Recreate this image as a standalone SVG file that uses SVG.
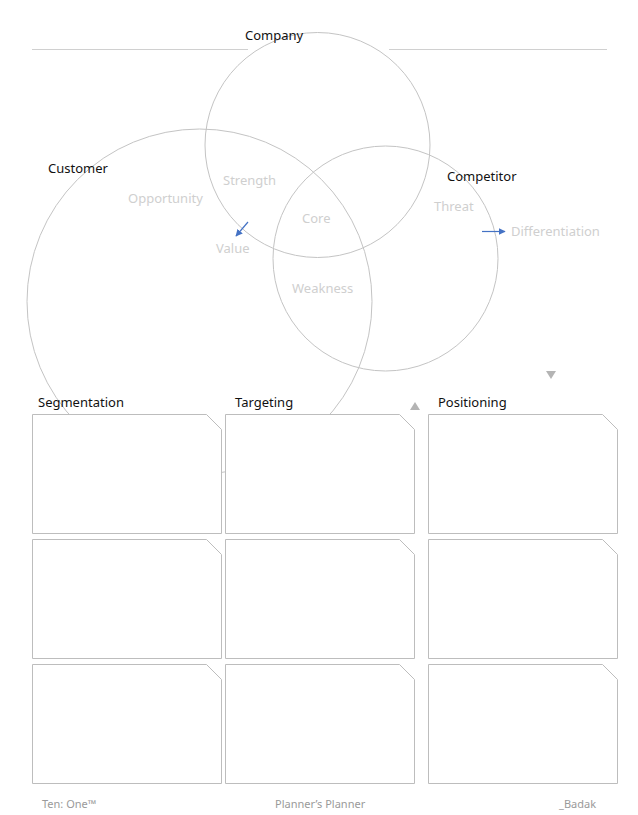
<svg xmlns="http://www.w3.org/2000/svg" width="638" height="815" viewBox="0 0 638 815">
<defs>
<style>
.c{fill:none;stroke:#c4c4c4;stroke-width:1}
.rule{stroke:#d0d0d0;stroke-width:1}
.box{fill:#fff;stroke:#bdbdbd;stroke-width:1}
.h{font-family:"Noto Sans","Open Sans",sans-serif;font-size:13px;fill:#111}
.g{font-family:"Noto Sans","Open Sans",sans-serif;font-size:13px;fill:#cfcfcf}
.f{font-family:"Noto Sans","Open Sans",sans-serif;font-size:11px;fill:#9a9a9a}
.arr{stroke:#4472c4;stroke-width:1.2;fill:none}
.tri{fill:#b4b4b4}
</style>
<marker id="ah" viewBox="0 0 10 10" refX="9" refY="5" markerWidth="7" markerHeight="7" orient="auto" markerUnits="userSpaceOnUse">
<path d="M0,0 L10,5 L0,10 z" fill="#4472c4"/>
</marker>
<path id="cut" d="M0.5,0.5 H174.5 L189.5,15.5 V119.5 H0.5 Z"/>
</defs>
<rect width="638" height="815" fill="#fff"/>
<g id="rules">
<line class="rule" x1="32" y1="49.5" x2="248" y2="49.5"/>
<line class="rule" x1="389" y1="49.5" x2="607" y2="49.5"/>
</g>
<g id="circle-company"><circle class="c" cx="317.5" cy="145" r="112.5"/></g>
<g id="circle-customer"><circle class="c" cx="199.5" cy="301.5" r="172.5"/></g>
<g id="circle-competitor"><circle class="c" cx="385.5" cy="258.5" r="112.5"/></g>
<g id="boxes">
<use href="#cut" class="box" transform="translate(32,414)"/>
<use href="#cut" class="box" transform="translate(225,414)"/>
<use href="#cut" class="box" transform="translate(428,414)"/>
<use href="#cut" class="box" transform="translate(32,539)"/>
<use href="#cut" class="box" transform="translate(225,539)"/>
<use href="#cut" class="box" transform="translate(428,539)"/>
<use href="#cut" class="box" transform="translate(32,664)"/>
<use href="#cut" class="box" transform="translate(225,664)"/>
<use href="#cut" class="box" transform="translate(428,664)"/>
</g>
<g id="labels">
<text class="h" x="245" y="40">Company</text>
<text class="h" x="48" y="173">Customer</text>
<text class="h" x="447" y="181">Competitor</text>
<text class="g" x="128" y="203">Opportunity</text>
<text class="g" x="223" y="185">Strength</text>
<text class="g" x="302" y="223">Core</text>
<text class="g" x="216" y="253">Value</text>
<text class="g" x="434" y="211">Threat</text>
<text class="g" x="511" y="236">Differentiation</text>
<text class="g" x="292" y="293">Weakness</text>
<text class="h" x="38" y="407">Segmentation</text>
<text class="h" x="235" y="407">Targeting</text>
<text class="h" x="438" y="407">Positioning</text>
</g>
<g id="connectors">
<line class="arr" x1="248" y1="222" x2="236" y2="236" marker-end="url(#ah)"/>
<line class="arr" x1="482" y1="231.5" x2="505" y2="231.5" marker-end="url(#ah)"/>
<path class="tri" d="M546,371 H556 L551,379 Z"/>
<path class="tri" d="M410,410 H420 L415,402 Z"/>
</g>
<g id="footer">
<text class="f" x="42" y="808">Ten: One™</text>
<text class="f" x="275" y="808">Planner’s Planner</text>
<text class="f" x="559" y="808">_Badak</text>
</g>
</svg>
